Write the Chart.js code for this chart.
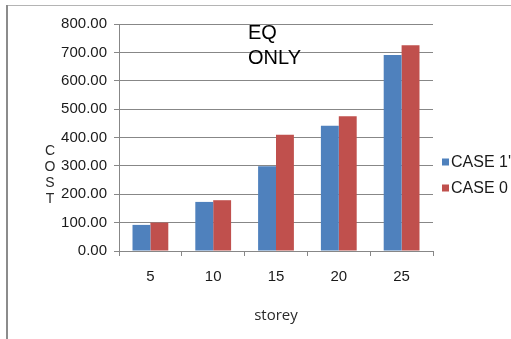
<!DOCTYPE html>
<html>
<head>
<meta charset="utf-8">
<script src="https://cdn.jsdelivr.net/npm/chart.js@4/dist/chart.umd.min.js"></script>
<style>
  html, body { margin: 0; padding: 0; background: #fff; }
  canvas { display: block; }
</style>
</head>
<body>
<canvas id="c" width="511" height="339"></canvas>
<script>
// Storey counts on the x axis
const storeys = ['5', '10', '15', '20', '25'];
// Cost per case
const case1Prime = [92, 173, 299, 441, 691];
const case0 = [100, 179, 410, 475, 725];
// Series names
const seriesNames = ["CASE 1'", 'CASE 0'];
const titleLines = ['EQ', 'ONLY'];
const yTitleLetters = ['C', 'O', 'S', 'T'];

const BLUE = '#4F81BD';
const RED = '#C0504D';
const GRID = '#878787';
const TEXT = '#1a1a1a';

// Outer frame, floating title, stacked y-axis title and side legend
const decorations = {
  id: 'decorations',
  afterDraw(chart) {
    const ctx = chart.ctx;
    ctx.save();
    // frame
    ctx.strokeStyle = '#b4b4b4';
    ctx.lineWidth = 1;
    ctx.beginPath();
    ctx.moveTo(7, 5.5); ctx.lineTo(511, 5.5);
    ctx.stroke();
    ctx.strokeStyle = '#8c8c8c';
    ctx.lineWidth = 2;
    ctx.beginPath();
    ctx.moveTo(7, 5); ctx.lineTo(7, 339);
    ctx.stroke();

    // title inside plot
    ctx.fillStyle = '#000';
    ctx.font = '20px "Liberation Sans", Arial, sans-serif';
    ctx.textAlign = 'left';
    ctx.textBaseline = 'middle';
    titleLines.forEach((t, i) => ctx.fillText(t, 248, 33 + i * 25));

    // stacked y-axis title
    ctx.fillStyle = '#2a2a2a';
    ctx.font = '14px "Liberation Sans", Arial, sans-serif';
    ctx.textAlign = 'center';
    yTitleLetters.forEach((t, i) => ctx.fillText(t, 50, 151 + i * 16));

    // legend
    ctx.font = '16px "Liberation Sans", Arial, sans-serif';
    ctx.textAlign = 'left';
    chart.data.datasets.forEach((ds, i) => {
      const y = 162 + i * 26;
      ctx.fillStyle = ds.backgroundColor;
      ctx.fillRect(442, y - 3.5, 7, 7);
      ctx.fillStyle = TEXT;
      ctx.fillText(ds.label, 451, y + 0.5);
    });
    ctx.restore();
  }
};

new Chart(document.getElementById('c'), {
  type: 'bar',
  data: {
    labels: storeys,
    datasets: [
      { label: seriesNames[0], data: case1Prime, backgroundColor: BLUE, barPercentage: 1, categoryPercentage: 0.57 },
      { label: seriesNames[1], data: case0, backgroundColor: RED, barPercentage: 1, categoryPercentage: 0.57 }
    ]
  },
  options: {
    responsive: false,
    animation: false,
    layout: { padding: { top: 24, right: 78, bottom: 0, left: 0 } },
    plugins: { legend: { display: false }, tooltip: { enabled: false } },
    scales: {
      x: {
        grid: { display: true, drawOnChartArea: false, color: GRID, tickLength: 5, offset: true },
        border: { color: GRID },
        ticks: { color: TEXT, font: { family: '"Liberation Sans", Arial, sans-serif', size: 15 }, padding: 12 },
        title: {
          display: true, text: 'storey', color: '#2a2a2a',
          font: { family: '"Open Sans", sans-serif', size: 15 },
          padding: { top: 0, bottom: 14 }
        },
        afterFit(scale) { scale.height = 88; }
      },
      y: {
        min: 0, max: 800,
        grid: { color: GRID, tickLength: 5 },
        border: { color: GRID },
        ticks: {
          stepSize: 100, color: TEXT, padding: 7,
          font: { family: '"Liberation Sans", Arial, sans-serif', size: 15 },
          callback: v => v.toFixed(2)
        },
        afterFit(scale) { scale.width = 119; }
      }
    }
  },
  plugins: [decorations]
});
</script>
</body>
</html>
